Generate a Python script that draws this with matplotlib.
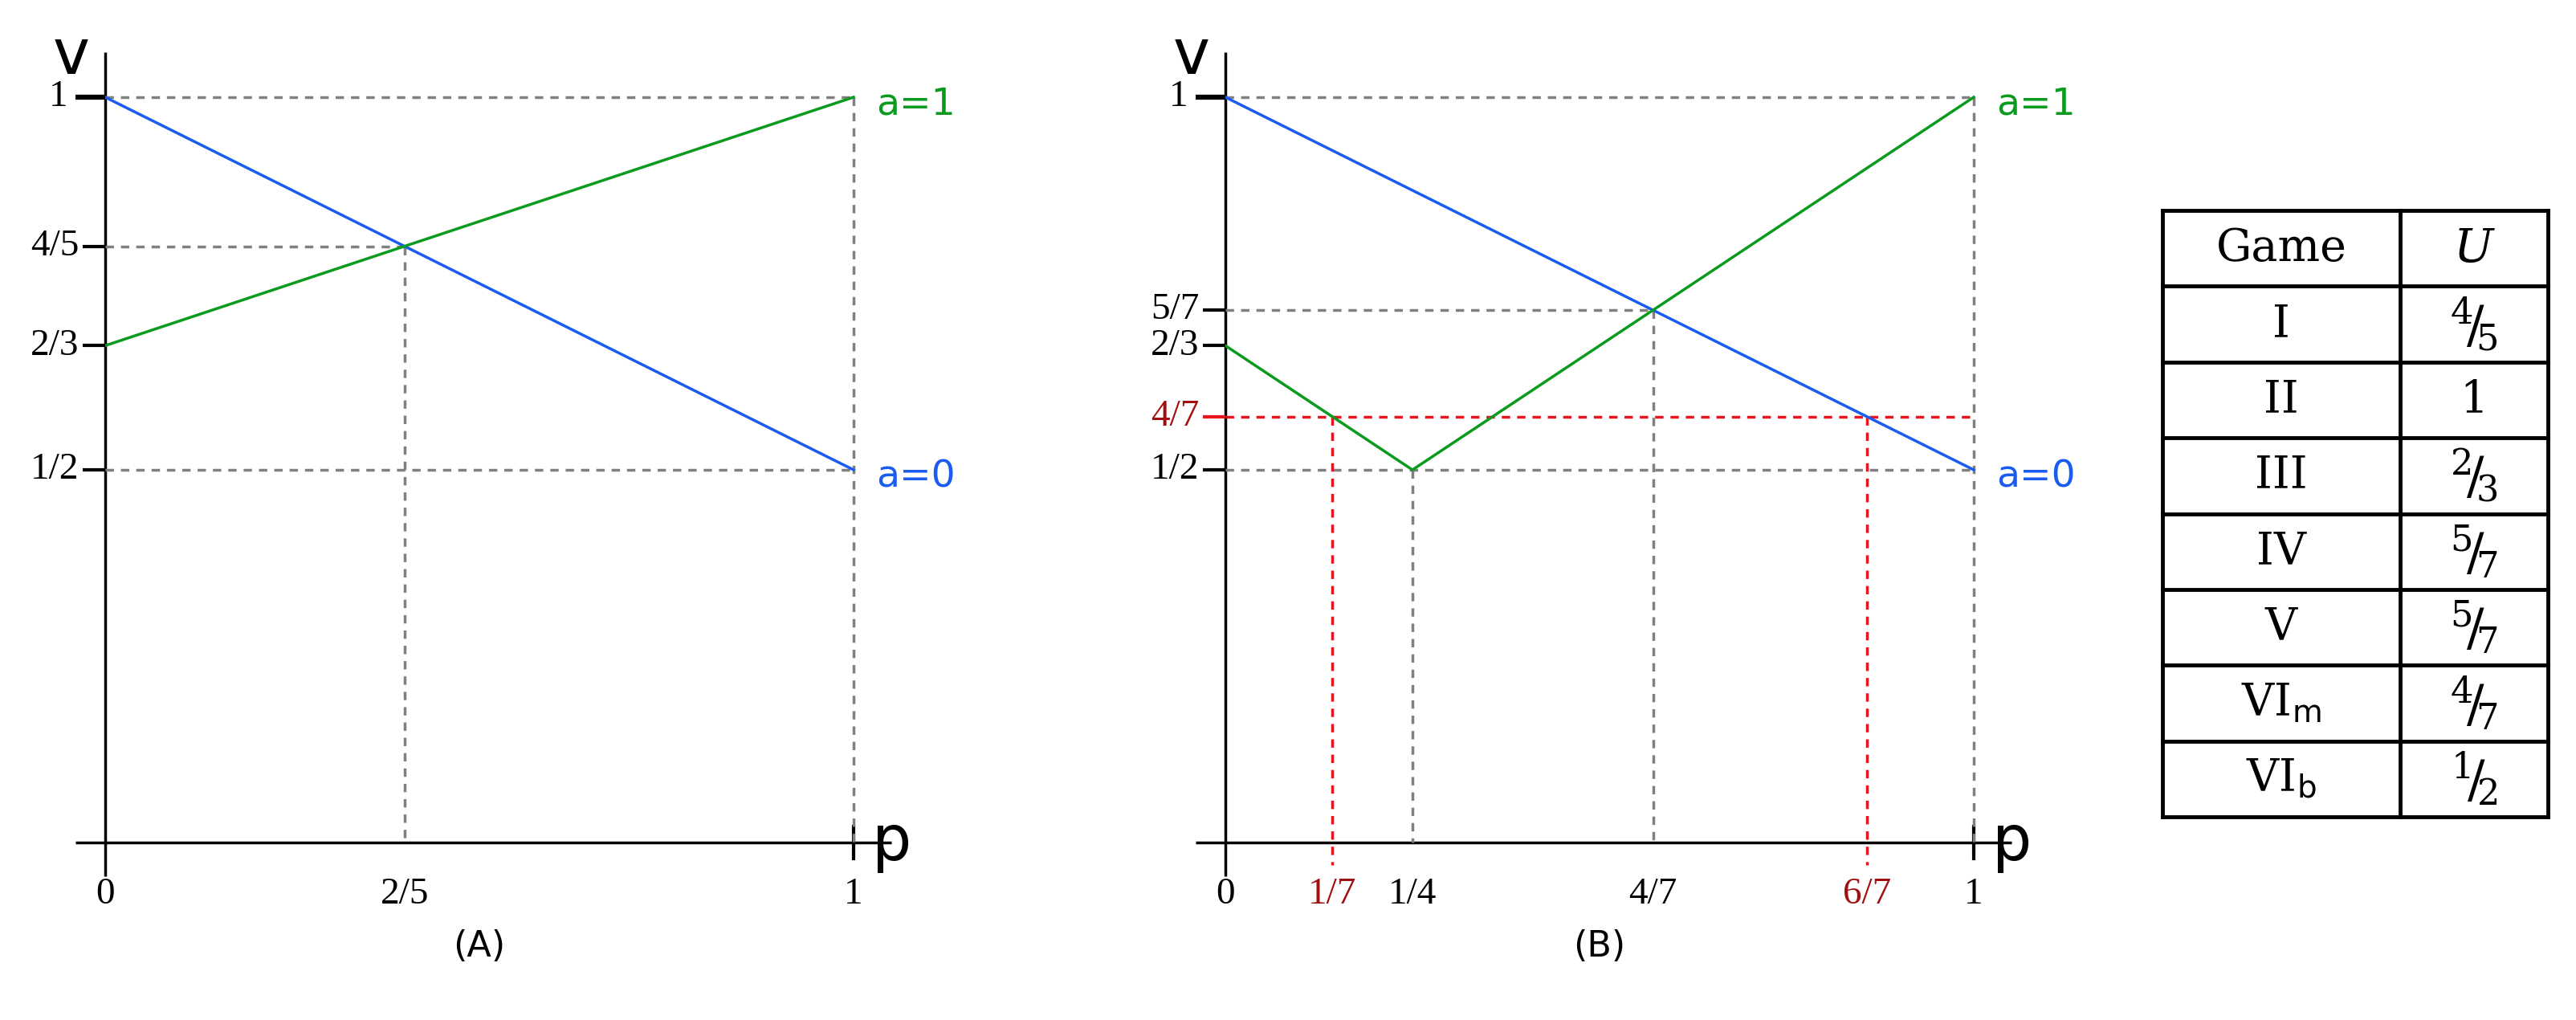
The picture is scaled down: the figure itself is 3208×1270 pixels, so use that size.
import matplotlib
matplotlib.use("Agg")
import matplotlib.pyplot as plt

# Panel A data
a_p = [0, 1]
a_blue = [1, 0.5]
a_green = [2/3, 1]
a_yticks = [1, 4/5, 2/3, 1/2]
a_ylabels = ["1", "4/5", "2/3", "1/2"]
a_xticks = [0, 2/5, 1]
a_xlabels = ["0", "2/5", "1"]

# Panel B data
b_blue_p = [0, 1]
b_blue = [1, 0.5]
b_green_p = [0, 1/4, 1]
b_green = [2/3, 1/2, 1]
b_yticks = [1, 5/7, 2/3, 1/2]
b_ylabels = ["1", "5/7", "2/3", "1/2"]
b_red_y = 4/7
b_red_x = [1/7, 6/7]
b_xticks = [0, 1/4, 4/7, 1]
b_xlabels = ["0", "1/4", "4/7", "1"]
b_red_labels = ["1/7", "6/7"]

games = ["I", "II", "III", "IV", "V", r"VI$_{\mathsf{m}}$", r"VI$_{\mathsf{b}}$"]
U = ["4/5", "1", "2/3", "5/7", "5/7", "4/7", "1/2"]

plt.rcParams["mathtext.fontset"] = "dejavuserif"
W, H = 3208, 1270
fig = plt.figure(figsize=(W/100, H/100), dpi=100)
BLUE = "#1a5cf0"; GREEN = "#0a9a1e"; GREY = "#808080"; RED = "#e8141e"; DRED = "#a01010"
SERIF = "Liberation Serif"; SANS = "DejaVu Sans"
dash = (0, (3, 2.5))
TL = 34

def make_ax(x0px):
    sx = 932; sy = 928
    xl, xr = -0.1, 1.15
    yb, yt = -0.15, 1.1
    left = x0px + xl*sx
    bottom = 1049 + (-yb)*sy
    ax = fig.add_axes([left/W, (H-bottom)/H, (xr-xl)*sx/W, (yt-yb)*sy/H])
    ax.set_xlim(xl, xr); ax.set_ylim(yb, yt); ax.axis("off")
    ax.plot([-0.04, 1.05], [0, 0], color="k", lw=2.5, solid_capstyle="butt")
    ax.plot([0, 0], [-0.045, 1.06], color="k", lw=2.5, solid_capstyle="butt")
    ax.plot([1, 1], [-0.022, 0.022], color="k", lw=3)
    ax.text(1.025, 0.0, "p", fontsize=56, family=SANS, va="center", ha="left")
    ax.text(-0.045, 1.055, "v", fontsize=56, family=SANS, va="center", ha="center")
    return ax

def yticks(ax, vals, labels):
    for v, l in zip(vals, labels):
        ax.plot([-0.03 if v != 1 else -0.04, 0], [v, v], color="k", lw=3 if v != 1 else 4.5, solid_capstyle="butt")
        ax.text(-0.035 if v != 1 else -0.05, v, l, fontsize=TL, family=SERIF, color="k", ha="right", va="center")

def xlabels(ax, vals, labels, color="k"):
    for v, l in zip(vals, labels):
        ax.text(v, -0.07, l, fontsize=TL, family=SERIF, color=color, ha="center", va="center")

# Panel A
ax = make_ax(131)
ax.plot([0, 1], [1, 1], color=GREY, lw=2.5, ls=dash)
ax.plot([1, 1], [1, 0], color=GREY, lw=2.5, ls=dash)
ax.plot([0, 1], [0.5, 0.5], color=GREY, lw=2.5, ls=dash)
ax.plot([0, 2/5], [4/5, 4/5], color=GREY, lw=2.5, ls=dash)
ax.plot([2/5, 2/5], [4/5, 0], color=GREY, lw=2.5, ls=dash)
ax.plot(a_p, a_blue, color=BLUE, lw=2.5)
ax.plot(a_p, a_green, color=GREEN, lw=2.5)
yticks(ax, a_yticks, a_ylabels)
xlabels(ax, a_xticks, a_xlabels)
ax.text(1.03, 0.99, "a=1", color=GREEN, fontsize=34, family=SANS, va="center")
ax.text(1.03, 0.49, "a=0", color=BLUE, fontsize=34, family=SANS, va="center")
ax.text(0.5, -0.14, "(A)", fontsize=32, family=SANS, ha="center", va="center")

# Panel B
ax = make_ax(1526)
ax.plot([0, 1], [1, 1], color=GREY, lw=2.5, ls=dash)
ax.plot([1, 1], [1, 0], color=GREY, lw=2.5, ls=dash)
ax.plot([0, 1], [0.5, 0.5], color=GREY, lw=2.5, ls=dash)
ax.plot([0, 4/7], [5/7, 5/7], color=GREY, lw=2.5, ls=dash)
ax.plot([4/7, 4/7], [5/7, 0], color=GREY, lw=2.5, ls=dash)
ax.plot([1/4, 1/4], [1/2, 0], color=GREY, lw=2.5, ls=dash)
ax.plot([0, 1], [b_red_y, b_red_y], color=RED, lw=2.5, ls=dash)
for x in b_red_x:
    ax.plot([x, x], [b_red_y, -0.03], color=RED, lw=2.5, ls=dash)
ax.plot(b_blue_p, b_blue, color=BLUE, lw=2.5)
ax.plot(b_green_p, b_green, color=GREEN, lw=2.5)
yticks(ax, b_yticks, b_ylabels)
ax.plot([-0.03, 0], [b_red_y, b_red_y], color=RED, lw=3, solid_capstyle="butt")
ax.text(-0.035, b_red_y, "4/7", fontsize=TL, family=SERIF, color=DRED, ha="right", va="center")
xlabels(ax, b_xticks, b_xlabels)
xlabels(ax, b_red_x, b_red_labels, color=DRED)
ax.text(1.03, 0.99, "a=1", color=GREEN, fontsize=34, family=SANS, va="center")
ax.text(1.03, 0.49, "a=0", color=BLUE, fontsize=34, family=SANS, va="center")
ax.text(0.5, -0.14, "(B)", fontsize=32, family=SANS, ha="center", va="center")

# Table
tx = fig.add_axes([0, 0, 1, 1]); tx.set_xlim(0, W); tx.set_ylim(H, 0); tx.axis("off")
L, M, R = 2693, 2989, 3173
top, rh = 262, 94.4
n = len(games) + 1
for i in range(n + 1):
    y = top + i*rh
    tx.plot([L, R], [y, y], color="k", lw=3.5)
for x in (L, M, R):
    tx.plot([x, x], [top, top + n*rh], color="k", lw=3.5)
def frac(s):
    if "/" in s:
        a, b = s.split("/")
        return rf"$^{{{a}}}\!/\!_{{{b}}}$"
    return s
tx.text((L+M)/2, top + rh/2, "Game", fontsize=40, family="DejaVu Serif", ha="center", va="center")
tx.text((M+R)/2, top + rh/2, r"$U$", fontsize=42, ha="center", va="center")
for i, (g, u) in enumerate(zip(games, U)):
    yc = top + (i + 1.5)*rh
    tx.text((L+M)/2, yc, g, fontsize=40, family="DejaVu Serif", ha="center", va="center")
    tx.text((M+R)/2, yc, frac(u), fontsize=46 if "/" in u else 40, family="DejaVu Serif", ha="center", va="center")

fig.savefig("out.png", dpi=100)
